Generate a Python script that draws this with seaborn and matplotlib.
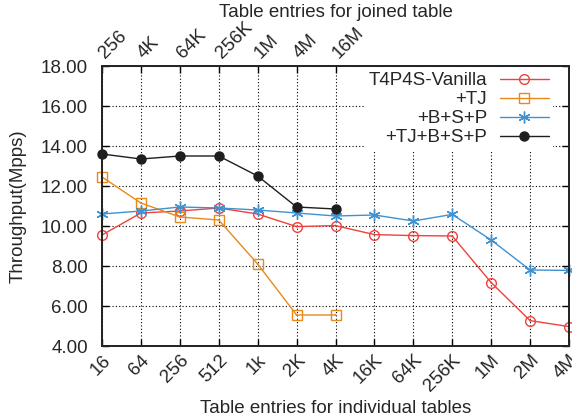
import matplotlib
matplotlib.use("Agg")
import matplotlib.pyplot as plt
import matplotlib.transforms as mtransforms
import seaborn as sns
import pandas as pd
import numpy as np

categories = ["16", "64", "256", "512", "1k", "2K", "4K", "16K", "64K", "256K", "1M", "2M", "4M"]
top_labels = ["256", "4K", "64K", "256K", "1M", "4M", "16M"]

vanilla = [9.55, 10.65, 10.75, 10.9, 10.6, 9.97, 10.02, 9.57, 9.52, 9.5, 7.17, 5.27, 4.97]
tj = [12.45, 11.15, 10.45, 10.3, 8.1, 5.55, 5.55]
bsp = [10.6, 10.75, 10.95, 10.9, 10.8, 10.65, 10.5, 10.55, 10.25, 10.58, 9.3, 7.8, 7.78]
tjbsp = [13.6, 13.35, 13.5, 13.5, 12.5, 10.95, 10.85]

series_names = ["T4P4S-Vanilla", "+TJ", "+B+S+P", "+TJ+B+S+P"]
series_values = [vanilla, tj, bsp, tjbsp]
colors = ["#f0413c", "#e8891a", "#3f91d0", "#1e1e1e"]
markers = ["o", "s", (6, 2, 0), "o"]
filled = [False, False, True, True]
msizes = [7, 7, 8.5, 6.5]

FS = 13.5

sns.set_theme(style="ticks")
plt.rcParams["font.family"] = ["Liberation Sans", "DejaVu Sans"]

fig = plt.figure(figsize=(5.72, 4.19), dpi=100)
ax = fig.add_axes([102 / 572, 1 - 346 / 419, (569 - 102) / 572, (346 - 66) / 419])

for name, vals, c, m, f, ms in zip(series_names, series_values, colors, markers, filled, msizes):
    df = pd.DataFrame({"x": np.arange(len(vals)), "y": vals})
    kw = dict(marker=m, markersize=ms, color=c, linewidth=1.0,
              markeredgecolor=c, markeredgewidth=1.0, label=name, clip_on=False)
    kw["markerfacecolor"] = c if f else "none"
    sns.lineplot(data=df, x="x", y="y", ax=ax, **kw)
    if not f:
        sns.scatterplot(data=df, x="x", y="y", ax=ax, color=c, s=2, marker="o",
                        edgecolor="none", clip_on=False, legend=False)

ax.set_xlim(0, len(categories) - 1)
ax.set_ylim(4, 18)
ax.set_yticks(np.arange(4, 18.1, 2))
ax.set_yticklabels([f"{v:.2f}" for v in np.arange(4, 18.1, 2)], fontsize=FS)
ax.set_xticks(np.arange(len(categories)))
ax.set_xticklabels(categories, rotation=45, ha="right", rotation_mode="anchor", fontsize=FS)
ax.set_xlabel("Table entries for individual tables", fontsize=FS, labelpad=4)
ax.set_ylabel("Throughput(Mpps)", fontsize=FS, labelpad=10)
ax.grid(True, linestyle=(0, (1, 2)), color="black", linewidth=0.8)
ax.tick_params(direction="in", length=5, width=1, top=True, right=True, color="black")
ax.tick_params(axis="x", pad=4)
ax.tick_params(axis="y", pad=10)
for s in ax.spines.values():
    s.set_color("black")
    s.set_linewidth(1.2)

ax2 = ax.twiny()
ax2.set_xlim(ax.get_xlim())
ax2.set_xticks(np.arange(len(top_labels)))
ax2.set_xticklabels(top_labels, rotation=45, ha="left", rotation_mode="anchor", fontsize=FS)
ax2.tick_params(direction="in", length=5, width=1, color="black", pad=3)
ax2.set_xlabel("Table entries for joined table", fontsize=FS, labelpad=1)
shift = mtransforms.ScaledTranslation(6 / 100, 0, fig.dpi_scale_trans)
for lab in ax2.get_xticklabels():
    lab.set_transform(lab.get_transform() + shift)

handles, labels = ax.get_legend_handles_labels()
leg = ax.legend(handles[:4], labels[:4], loc="upper right", bbox_to_anchor=(0.985, 1.025),
                markerfirst=False, frameon=True, fontsize=FS, handlelength=2.6,
                labelspacing=0.1, borderpad=0.2, handletextpad=0.7)
leg.get_frame().set_edgecolor("none")
leg.get_frame().set_facecolor("white")
leg.get_frame().set_alpha(1)
leg._legend_box.align = "right"
for vp in leg._legend_box.get_children()[1].get_children():
    vp.align = "right"

fig.savefig("out.png", dpi=100)
